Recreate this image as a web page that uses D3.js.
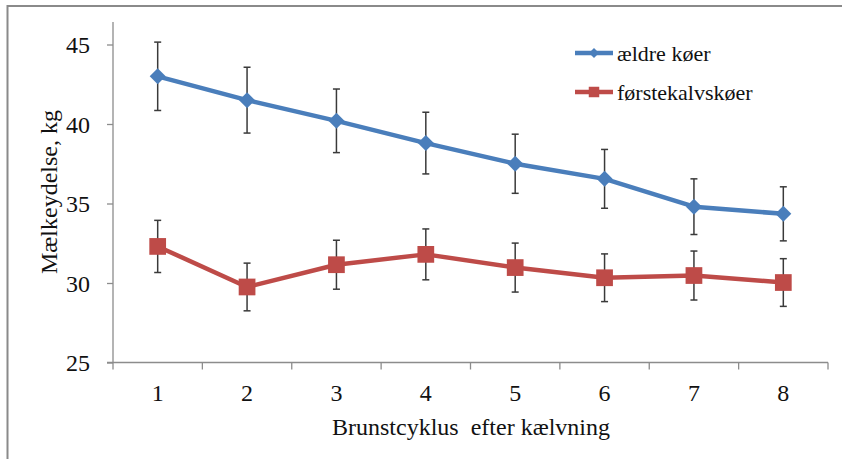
<!DOCTYPE html>
<html>
<head>
<meta charset="utf-8">
<script src="https://cdn.jsdelivr.net/npm/d3@7"></script>
</head>
<body style="margin:0">
<div id="chart"></div>
<script>
'use strict';

// data
var cycles = [1, 2, 3, 4, 5, 6, 7, 8];
var yTicks = [25, 30, 35, 40, 45];

var aeldreMean = [43.0, 41.5, 40.2, 38.8, 37.5, 36.55, 34.8, 34.35];
var aeldreErr  = [2.15, 2.07, 2.0, 1.94, 1.86, 1.85, 1.75, 1.7];

var foersteMean = [32.3, 29.75, 31.15, 31.8, 30.97, 30.33, 30.47, 30.03];
var foersteErr  = [1.64, 1.5, 1.54, 1.6, 1.54, 1.5, 1.54, 1.5];

var seriesNames = ["ældre køer", "førstekalvskøer"];

var W = 842, H = 459;
var plotLeft = 113, plotRight = 828, plotTop = 44.5, plotBottom = 362.5;
var fontFam = "'Liberation Serif'";
var ink = "#111";

var svg = d3.select("#chart").append("svg")
    .attr("width", W)
    .attr("height", H)
    .style("display", "block");

// frame lines (left + top) from the surrounding page
svg.append("line").attr("x1", 7.5).attr("x2", 7.5).attr("y1", 5).attr("y2", H)
    .attr("stroke", "#8a8a8a").attr("stroke-width", 2);
svg.append("line").attr("x1", 7).attr("x2", W).attr("y1", 6).attr("y2", 6)
    .attr("stroke", "#8a8a8a").attr("stroke-width", 2);

var x = d3.scaleBand().domain(cycles).range([plotLeft, plotRight]);
var y = d3.scaleLinear().domain([25, 45]).range([plotBottom, plotTop]);

var axisColor = "#8c8c8c";

// y axis
var yAxis = svg.append("g")
    .attr("transform", "translate(" + plotLeft + ",0)")
    .call(d3.axisLeft(y).tickValues(yTicks).tickSize(6).tickPadding(17));
yAxis.attr("font-family", null).attr("font-size", null);
yAxis.select(".domain").remove();
yAxis.append("line").attr("x1", 0).attr("x2", 0).attr("y1", 22).attr("y2", plotBottom)
    .attr("stroke", axisColor).attr("stroke-width", 1.3);
yAxis.selectAll(".tick line").attr("stroke", axisColor).attr("stroke-width", 1.3);
yAxis.selectAll(".tick text")
    .style("font-size", "24px")
    .style("font-family", fontFam)
    .attr("fill", ink)
    .attr("dy", "0.34em");

// x axis, ticks sit between categories
var xAxis = svg.append("g")
    .attr("transform", "translate(0," + plotBottom + ")");
xAxis.append("line").attr("x1", plotLeft - 6).attr("x2", plotRight).attr("y1", 0).attr("y2", 0)
    .attr("stroke", axisColor).attr("stroke-width", 1.3);
var bounds = cycles.map(function(c) { return x(c); }).concat([plotRight]);
xAxis.selectAll(".xt").data(bounds).enter().append("line")
    .attr("class", "xt")
    .attr("x1", function(d) { return d; }).attr("x2", function(d) { return d; })
    .attr("y1", 0).attr("y2", 7)
    .attr("stroke", axisColor).attr("stroke-width", 1.3);
xAxis.selectAll(".xl").data(cycles).enter().append("text")
    .attr("class", "xl")
    .attr("x", function(d) { return x(d) + x.bandwidth() / 2; })
    .attr("y", 38)
    .attr("text-anchor", "middle")
    .attr("fill", ink)
    .style("font-family", fontFam)
    .style("font-size", "24px")
    .text(function(d) { return d; });

// axis titles
svg.append("text")
    .attr("x", 471).attr("y", 435)
    .attr("text-anchor", "middle")
    .attr("fill", ink)
    .style("font-family", fontFam)
    .style("font-size", "24px")
    .style("white-space", "pre")
    .text("Brunstcyklus  efter kælvning");

svg.append("text")
    .attr("transform", "translate(57,192) rotate(-90)")
    .attr("text-anchor", "middle")
    .attr("fill", ink)
    .style("font-family", fontFam)
    .style("font-size", "24px")
    .text("Mælkeydelse, kg");

var cx = function(i) { return x(cycles[i]) + x.bandwidth() / 2; };

// diamond = square turned 45 degrees
function markerPath(size) {
  return d3.symbol(d3.symbolSquare, size)();
}
function markerRot(shape) {
  return shape === "diamond" ? " rotate(45)" : "";
}

function drawSeries(means, errs, color, shape) {
  var g = svg.append("g");
  var line = d3.line()
      .x(function(d, i) { return cx(i); })
      .y(function(d) { return y(d); });

  g.append("path")
      .datum(means)
      .attr("d", line)
      .attr("fill", "none")
      .attr("stroke", color)
      .attr("stroke-width", 4.5)
      .attr("stroke-linejoin", "round");

  // error bars
  var eb = g.selectAll(".eb").data(means).enter().append("g");
  eb.append("line")
      .attr("x1", function(d, i) { return cx(i); })
      .attr("x2", function(d, i) { return cx(i); })
      .attr("y1", function(d, i) { return y(d + errs[i]); })
      .attr("y2", function(d, i) { return y(d - errs[i]); })
      .attr("stroke", "#3a3a3a").attr("stroke-width", 1.5);
  [1, -1].forEach(function(s) {
    eb.append("line")
        .attr("x1", function(d, i) { return cx(i) - 3.5; })
        .attr("x2", function(d, i) { return cx(i) + 3.5; })
        .attr("y1", function(d, i) { return y(d + s * errs[i]); })
        .attr("y2", function(d, i) { return y(d + s * errs[i]); })
        .attr("stroke", "#3a3a3a").attr("stroke-width", 1.5);
  });

  var size = shape === "diamond" ? 128 : 280;
  g.selectAll(".m").data(means).enter().append("path")
      .attr("transform", function(d, i) { return "translate(" + cx(i) + "," + y(d) + ")" + markerRot(shape); })
      .attr("d", markerPath(size))
      .attr("fill", color);
}

drawSeries(aeldreMean, aeldreErr, "#4a7ebb", "diamond");
drawSeries(foersteMean, foersteErr, "#be4b48", "square");

// legend
var legend = svg.append("g");
var legendItems = [
  { name: seriesNames[0], color: "#4a7ebb", shape: "diamond", y: 53, size: 50 },
  { name: seriesNames[1], color: "#be4b48", shape: "square", y: 92, size: 110 }
];
legendItems.forEach(function(it) {
  legend.append("line")
      .attr("x1", 575).attr("x2", 613).attr("y1", it.y).attr("y2", it.y)
      .attr("stroke", it.color).attr("stroke-width", 4.5);
  legend.append("path")
      .attr("transform", "translate(594," + it.y + ")" + markerRot(it.shape))
      .attr("d", markerPath(it.size))
      .attr("fill", it.color);
  legend.append("text")
      .attr("x", 617).attr("y", it.y + 7.5)
      .attr("fill", ink)
      .style("font-family", fontFam)
      .style("font-size", "22px")
      .text(it.name);
});
</script>
</body>
</html>
